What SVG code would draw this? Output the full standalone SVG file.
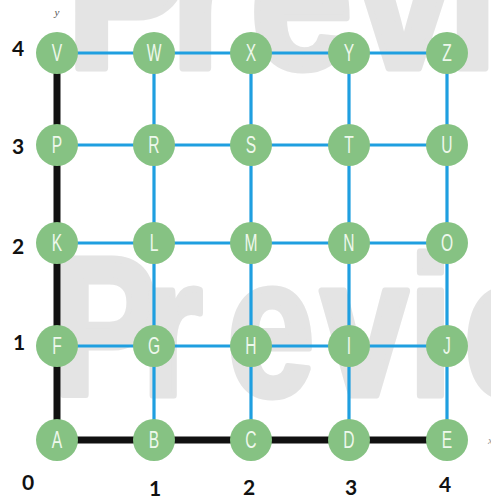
<svg xmlns="http://www.w3.org/2000/svg" width="491" height="497" viewBox="0 0 491 497">
<style>
.wm{font-family:"Liberation Sans",Arial,sans-serif;font-weight:bold;fill:#e4e4e4;stroke:#e4e4e4;stroke-width:7;stroke-linejoin:round}
.blue{stroke:#1f9fe0;stroke-width:3.2;fill:none}
.axis{stroke:#111;stroke-width:7;fill:none;stroke-linecap:butt}
.node circle{fill:#86c283}
.node text{font-family:"Liberation Sans",Arial,sans-serif;font-size:24px;fill:#eef8ec;text-anchor:middle;dominant-baseline:central}
.num{font-family:"Lato","Liberation Sans",Arial,sans-serif;font-weight:bold;font-size:21px;fill:#111;text-anchor:middle;dominant-baseline:central}
</style>
<rect width="491" height="497" fill="#ffffff"/>
<g id="watermark">
<text class="wm" font-size="210" x="75 193 284 401 508 600" y="0" transform="translate(0,68) scale(0.88,1)">Previe</text>
<text class="wm" font-size="196" x="66 177 284 401 511 580" y="0" transform="translate(0,395) scale(0.8,1)">Previe</text>
</g>
<g id="connectors">
<path class="blue" d="M57 53H447M57 145H447M57 243H447M57 346H447"/>
<path class="blue" d="M154 53V440M251 53V440M349 53V440M447 53V440"/>
<path class="axis" d="M57 53V440H447"/>
</g>
<g id="nodes">
<g id="V" class="node" transform="translate(57,53)"><circle r="21"/><text transform="scale(0.65,1)">V</text></g>
<g id="W" class="node" transform="translate(154,53)"><circle r="21"/><text transform="scale(0.65,1)">W</text></g>
<g id="X" class="node" transform="translate(251,53)"><circle r="21"/><text transform="scale(0.65,1)">X</text></g>
<g id="Y" class="node" transform="translate(349,53)"><circle r="21"/><text transform="scale(0.65,1)">Y</text></g>
<g id="Z" class="node" transform="translate(447,53)"><circle r="21"/><text transform="scale(0.65,1)">Z</text></g>
<g id="P" class="node" transform="translate(57,145)"><circle r="21"/><text transform="scale(0.65,1)">P</text></g>
<g id="R" class="node" transform="translate(154,145)"><circle r="21"/><text transform="scale(0.65,1)">R</text></g>
<g id="S" class="node" transform="translate(251,145)"><circle r="21"/><text transform="scale(0.65,1)">S</text></g>
<g id="T" class="node" transform="translate(349,145)"><circle r="21"/><text transform="scale(0.65,1)">T</text></g>
<g id="U" class="node" transform="translate(447,145)"><circle r="21"/><text transform="scale(0.65,1)">U</text></g>
<g id="K" class="node" transform="translate(57,243)"><circle r="21"/><text transform="scale(0.65,1)">K</text></g>
<g id="L" class="node" transform="translate(154,243)"><circle r="21"/><text transform="scale(0.65,1)">L</text></g>
<g id="M" class="node" transform="translate(251,243)"><circle r="21"/><text transform="scale(0.65,1)">M</text></g>
<g id="N" class="node" transform="translate(349,243)"><circle r="21"/><text transform="scale(0.65,1)">N</text></g>
<g id="O" class="node" transform="translate(447,243)"><circle r="21"/><text transform="scale(0.65,1)">O</text></g>
<g id="F" class="node" transform="translate(57,346)"><circle r="21"/><text transform="scale(0.65,1)">F</text></g>
<g id="G" class="node" transform="translate(154,346)"><circle r="21"/><text transform="scale(0.65,1)">G</text></g>
<g id="H" class="node" transform="translate(251,346)"><circle r="21"/><text transform="scale(0.65,1)">H</text></g>
<g id="I" class="node" transform="translate(349,346)"><circle r="21"/><text transform="scale(0.65,1)">I</text></g>
<g id="J" class="node" transform="translate(447,346)"><circle r="21"/><text transform="scale(0.65,1)">J</text></g>
<g id="A" class="node" transform="translate(57,440)"><circle r="21"/><text transform="scale(0.65,1)">A</text></g>
<g id="B" class="node" transform="translate(154,440)"><circle r="21"/><text transform="scale(0.65,1)">B</text></g>
<g id="C" class="node" transform="translate(251,440)"><circle r="21"/><text transform="scale(0.65,1)">C</text></g>
<g id="D" class="node" transform="translate(349,440)"><circle r="21"/><text transform="scale(0.65,1)">D</text></g>
<g id="E" class="node" transform="translate(447,440)"><circle r="21"/><text transform="scale(0.65,1)">E</text></g>
</g>
<g id="labels">
<text class="num" x="18" y="47">4</text>
<text class="num" x="18" y="145">3</text>
<text class="num" x="18" y="245">2</text>
<text class="num" x="19" y="341">1</text>
<text class="num" x="28" y="481">0</text>
<text class="num" x="155" y="487">1</text>
<text class="num" x="249" y="486">2</text>
<text class="num" x="351" y="486">3</text>
<text class="num" x="445" y="483">4</text>
<text x="57" y="16" font-family="Liberation Serif,serif" font-style="italic" font-size="11" fill="#555" text-anchor="middle">y</text>
<text x="488" y="444" font-family="Liberation Serif,serif" font-style="italic" font-size="11" fill="#999">x</text>
</g>
</svg>
